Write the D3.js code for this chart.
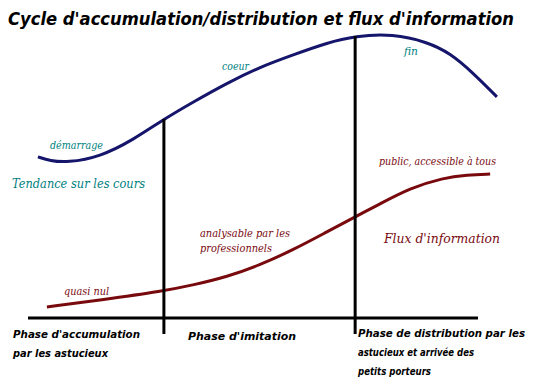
<!DOCTYPE html>
<html><head><meta charset="utf-8">
<script src="https://cdn.jsdelivr.net/npm/d3@7"></script>
<style>body{margin:0;background:#fff}svg{display:block}</style>
</head><body>
<script>
// time axis 0..100 (phases), values 0..100
const priceTime  = [2.2, 4.9, 8.7, 16, 23.3, 30.2, 36.7, 44.2, 51.6, 58.9, 66.4, 72.7, 81.1, 88.7, 93.8, 98.9, 104.2];
const priceValue = [53.7, 52.4, 51.8, 53.7, 59.3, 66.3, 72, 78.3, 83.7, 87.7, 91.7, 94, 94.7, 92, 88.3, 81.7, 73.7];
const infoTime   = [4.2, 16, 30.2, 36.7, 44.2, 51.6, 58.9, 66.4, 72.7, 77.8, 84.9, 92.2, 97.6, 102.7];
const infoValue  = [3.7, 6, 9, 11, 13.7, 17.7, 22.7, 28.7, 33.7, 37.7, 43.3, 46.7, 47.7, 48];
const phaseBounds = [30.2, 72.7];
const phaseLabels = [["Phase d'accumulation","par les astucieux"],["Phase d'imitation"],["Phase de distribution par les","astucieux et arrivée des","petits porteurs"]];
const title = "Cycle d'accumulation/distribution et flux d'information";

const W=537,H=380;
const x=d3.scaleLinear().domain([0,100]).range([28,478]);
const y=d3.scaleLinear().domain([0,100]).range([318,18]);
const svg=d3.select("body").append("svg").attr("width",W).attr("height",H);

const blackFont="'DejaVu Sans', sans-serif";
const colFont="'DejaVu Serif', serif";

svg.append("text").attr("x",8).attr("y",25).text(title)
  .attr("font-family",blackFont).attr("font-style","italic").attr("font-weight","bold")
  .attr("font-size",17).attr("textLength",506).attr("lengthAdjust","spacingAndGlyphs");

const line=d3.line().x(d=>x(d[0])).y(d=>y(d[1])).curve(d3.curveBasis);
svg.append("path").datum(d3.zip(priceTime,priceValue)).attr("d",line)
  .attr("fill","none").attr("stroke","#15156b").attr("stroke-width",3);
svg.append("path").datum(d3.zip(infoTime,infoValue)).attr("d",line)
  .attr("fill","none").attr("stroke","#780a0e").attr("stroke-width",3);

// axis
svg.append("line").attr("x1",x(0)).attr("x2",x(100)).attr("y1",y(0)).attr("y2",y(0))
  .attr("stroke","#000").attr("stroke-width",3);
phaseBounds.forEach(b=>{
  const i=priceTime.indexOf(b);
  svg.append("line").attr("x1",x(b)).attr("x2",x(b)).attr("y1",y(priceValue[i])).attr("y2",y(0)+16)
    .attr("stroke","#000").attr("stroke-width",3);
});

function txt(s,px,py,col,size,fam,len,weight){
  const t=svg.append("text").attr("x",px).attr("y",py).text(s).attr("fill",col)
    .attr("font-family",fam).attr("font-style","italic").attr("font-size",size);
  if(weight) t.attr("font-weight",weight);
  if(len) t.attr("textLength",len).attr("lengthAdjust","spacingAndGlyphs");
  return t;
}
const teal="#007f7f", red="#7a0a10";
txt("démarrage",50,149,teal,11,colFont,53);
txt("coeur",222,70,teal,11,colFont,27);
txt("fin",404,55,teal,11,colFont,14);
txt("Tendance sur les cours",12,188,teal,13,colFont,133);
txt("public, accessible à tous",379,165,red,11,colFont,117);
txt("analysable par les",200,237,red,11,colFont,90);
txt("professionnels",200,252,red,11,colFont,72);
txt("Flux d'information",384,243,red,13,colFont,116);
txt("quasi nul",64,295,red,11,colFont,45);

const lx=[13,188,358], ly0=[338,340,337], lw=[[127,95],[108],[167,116,73]];
phaseLabels.forEach((arr,i)=>arr.forEach((s,j)=>{
  txt(s,lx[i],ly0[i]+j*19,"#000",11,blackFont,lw[i][j],"bold");
}));
</script>
</body></html>
